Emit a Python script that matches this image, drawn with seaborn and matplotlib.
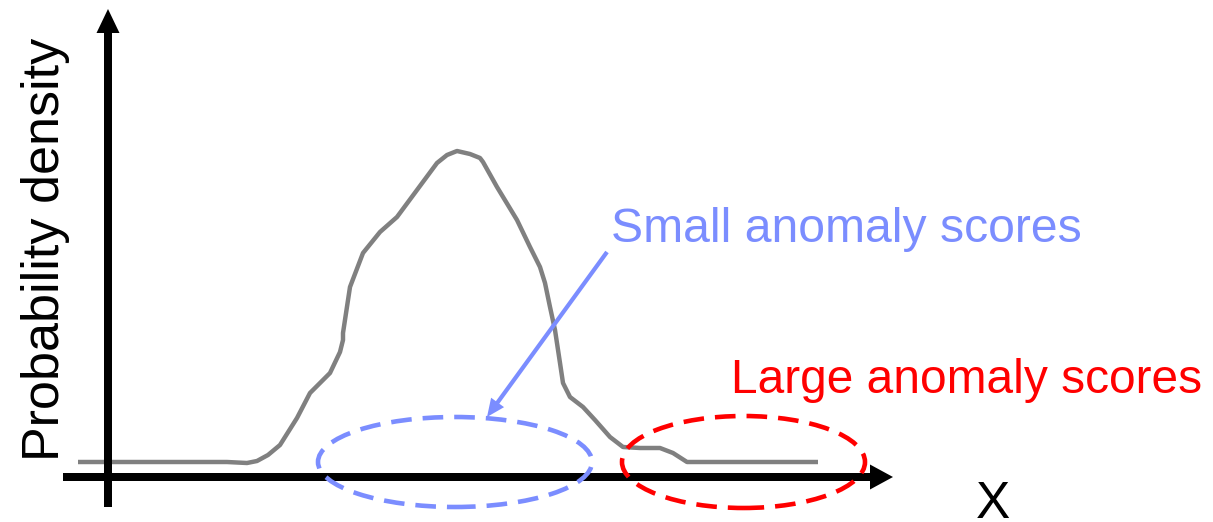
import matplotlib
matplotlib.use("Agg")
import matplotlib.pyplot as plt
from matplotlib.patches import Ellipse
import pandas as pd
import seaborn as sns

# Density curve of the scores (arbitrary units, origin at the axes crossing)
score = [-30, 42, 119, 139, 149, 160, 172, 189, 202, 222, 232, 235, 235, 242,
         255, 272, 289, 329, 339, 349, 362, 372, 375, 389, 409, 422, 432, 437,
         442, 447, 452, 455, 462, 475, 487, 502, 515, 532, 552, 565, 579, 595,
         710]
density = [15, 15, 15, 14, 16, 22, 32, 59, 84, 104, 125, 137, 144, 190,
           224, 245, 260, 314, 322, 326, 323, 319, 315, 290, 257, 230, 210, 194,
           170, 147, 114, 94, 80, 70, 57, 40, 30, 29, 29, 24, 15, 15,
           15]

# Text
y_label = "Probability density"
x_label = "X"
small_label = "Small anomaly scores"
large_label = "Large anomaly scores"

# Colours
curve_color = "#808080"
small_color = "#7b8dff"
large_color = "#ff0000"

sns.set_theme(style="white")
plt.rcParams["font.family"] = ["Liberation Sans", "DejaVu Sans"]

fig = plt.figure(figsize=(12.13, 5.22), dpi=100)
ax = fig.add_axes([0, 0, 1, 1])
ax.set_xlim(-108, 1105)
ax.set_ylim(-45, 477)
ax.set_axis_off()

df = pd.DataFrame({"score": score, "density": density})
sns.lineplot(data=df, x="score", y="density", sort=False, estimator=None,
             color=curve_color, lw=3.2, ax=ax, zorder=2,
             solid_joinstyle="round", solid_capstyle="butt")

# Coordinate axes drawn as arrows
ax.arrow(-45, 0, 830, 0, width=8, head_width=25, head_length=23,
         length_includes_head=True, color="black", lw=0, zorder=3)
ax.arrow(0, -30, 0, 498, width=8, head_width=23, head_length=24,
         length_includes_head=True, color="black", lw=0, zorder=3)

# Regions of small and large anomaly scores
dash = (0, (4.5, 2.4))
ax.add_patch(Ellipse((347, 15), 274, 90, fill=False, edgecolor=small_color,
                     lw=3.3, linestyle=dash, zorder=4))
ax.add_patch(Ellipse((635.5, 15), 243, 92, fill=False, edgecolor=large_color,
                     lw=3.3, linestyle=dash, zorder=4))

# Pointer from the label to the small-score region
ax.arrow(499, 225, -120, -165, width=4.2, head_width=16, head_length=18,
         length_includes_head=True, color=small_color, lw=0, zorder=4)

ax.text(503, 235, small_label, color=small_color, fontsize=34.7,
        ha="left", va="baseline")
ax.text(623, 84, large_label, color=large_color, fontsize=34.5,
        ha="left", va="baseline")
ax.text(-49, 16, y_label, color="black", fontsize=37.5, rotation=90,
        rotation_mode="anchor", ha="left", va="baseline")
ax.text(868, -41, x_label, color="black", fontsize=37,
        ha="left", va="baseline")

fig.savefig("out.png", dpi=100)
